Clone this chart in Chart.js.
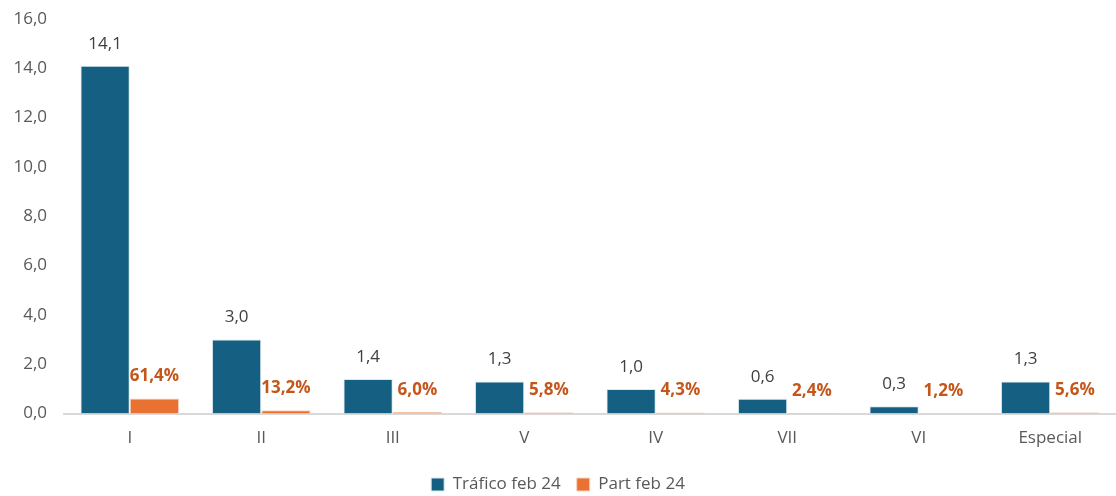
<!DOCTYPE html>
<html>
<head>
<meta charset="utf-8">
<script src="https://cdn.jsdelivr.net/npm/chart.js@4"></script>
<style>
  html, body { margin: 0; padding: 0; background: #fff; }
  #wrap { width: 1116px; height: 496px; }
</style>
</head>
<body>
<div id="wrap"><canvas id="chart"></canvas></div>
<script>
var categories = ["I", "II", "III", "V", "IV", "VII", "VI", "Especial"];
var trafico = [14.1, 3.0, 1.4, 1.3, 1.0, 0.6, 0.3, 1.3];
var part = [0.614, 0.132, 0.060, 0.058, 0.043, 0.024, 0.012, 0.056];
var yTicks = [0, 2, 4, 6, 8, 10, 12, 14, 16];

var fam = '"Open Sans", Roboto, sans-serif';
function coma(v, d) { return v.toFixed(d).replace('.', ','); }

// draws the value labels above each bar
var barLabels = {
  id: 'barLabels',
  afterDatasetsDraw: function (chart) {
    var ctx = chart.ctx;
    ctx.save();
    ctx.textAlign = 'center';
    ctx.textBaseline = 'middle';
    chart.data.datasets.forEach(function (ds, i) {
      var meta = chart.getDatasetMeta(i);
      meta.data.forEach(function (bar, j) {
        if (i === 0) {
          ctx.font = '17px ' + fam;
          ctx.fillStyle = '#404040';
          ctx.fillText(coma(ds.data[j], 1), bar.x, bar.y - 22);
        } else {
          ctx.font = 'bold 17px ' + fam;
          ctx.fillStyle = '#C4561B';
          ctx.fillText(coma(ds.data[j] * 100, 1) + '%', bar.x, bar.y - 22);
        }
      });
    });
    ctx.restore();
  }
};

var ctx = document.getElementById("chart").getContext('2d');
var myChart = new Chart(ctx, {
  type: 'bar',
  data: {
    labels: categories,
    datasets: [{
      label: 'Tráfico feb 24',
      data: trafico,
      backgroundColor: '#156082',
      borderColor: '#dbe8ef',
      borderWidth: 1,
      barPercentage: 1,
      categoryPercentage: 0.75
    }, {
      label: 'Part feb 24',
      data: part,
      backgroundColor: '#E97132',
      borderColor: '#f8d3bf',
      borderWidth: 1,
      barPercentage: 1,
      categoryPercentage: 0.75
    }]
  },
  options: {
    responsive: true,
    maintainAspectRatio: false,
    animation: false,
    layout: { padding: { top: 0, right: 0, bottom: -7, left: 0 } },
    plugins: {
      tooltip: { enabled: false },
      legend: {
        position: 'bottom',
        labels: {
          boxWidth: 13,
          boxHeight: 13,
          padding: 16,
          color: '#595959',
          font: { size: 17, family: fam }
        }
      }
    },
    scales: {
      x: {
        grid: { display: false, drawTicks: false },
        border: { color: '#d9d9d9', width: 2 },
        afterFit: function (scale) { scale.height -= 2; },
        ticks: {
          color: '#595959',
          padding: 14,
          font: { size: 17, family: fam }
        }
      },
      y: {
        min: 0,
        max: 16,
        afterBuildTicks: function (scale) {
          scale.ticks = yTicks.map(function (v) { return { value: v }; });
        },
        afterFit: function (scale) {
          scale.width = 64;
          scale.paddingTop = 19;
          scale.paddingBottom = 9;
        },
        grid: { display: false, drawTicks: false },
        border: { display: false },
        ticks: {
          color: '#595959',
          padding: 17,
          font: { size: 17, family: fam },
          callback: function (v) { return coma(v, 1); }
        }
      }
    }
  },
  plugins: [barLabels]
});
</script>
</body>
</html>
